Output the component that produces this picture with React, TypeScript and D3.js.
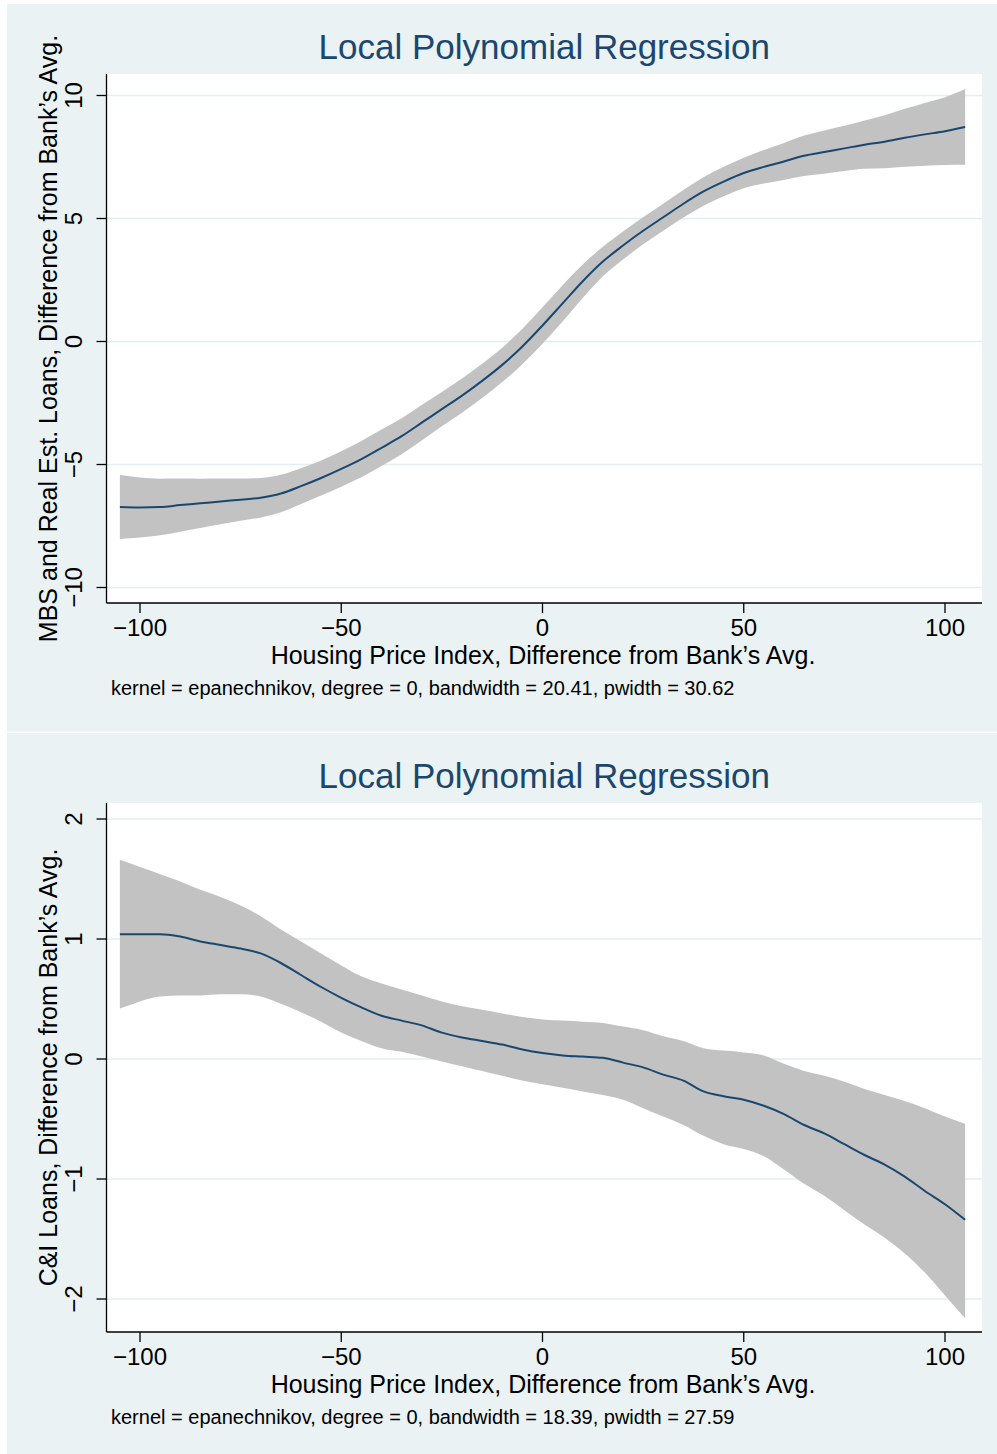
import React from 'react';
import * as d3 from 'd3';

// x grid (Housing Price Index, difference from bank's avg.)
const xs = [-105,-100,-95,-90,-85,-80,-75,-70,-65,-60,-55,-50,-45,-40,-35,-30,-25,-20,-15,-10,-5,0,5,10,15,20,25,30,35,40,45,50,55,60,65,70,75,80,85,90,95,100,105];

// Panel 1: MBS and Real Est. Loans
const mbsFit = [-6.73,-6.75,-6.73,-6.65,-6.58,-6.50,-6.43,-6.35,-6.18,-5.88,-5.55,-5.18,-4.78,-4.32,-3.85,-3.30,-2.75,-2.20,-1.60,-0.95,-0.20,0.65,1.55,2.45,3.25,3.90,4.50,5.05,5.60,6.10,6.50,6.85,7.10,7.32,7.55,7.70,7.85,8.00,8.12,8.28,8.42,8.55,8.72];
const mbsUpper = [-5.43,-5.53,-5.58,-5.57,-5.58,-5.57,-5.57,-5.55,-5.42,-5.15,-4.84,-4.46,-4.04,-3.58,-3.12,-2.58,-2.05,-1.50,-0.90,-0.25,0.52,1.39,2.29,3.13,3.85,4.47,5.05,5.60,6.16,6.68,7.10,7.47,7.78,8.07,8.37,8.58,8.77,8.98,9.20,9.46,9.70,9.93,10.26];
const mbsLower = [-8.03,-7.97,-7.88,-7.73,-7.58,-7.43,-7.29,-7.15,-6.94,-6.61,-6.26,-5.90,-5.52,-5.06,-4.58,-4.02,-3.45,-2.90,-2.30,-1.65,-0.92,-0.09,0.81,1.77,2.65,3.33,3.95,4.50,5.04,5.52,5.90,6.23,6.42,6.57,6.73,6.82,6.93,7.02,7.04,7.10,7.14,7.17,7.18];

// Panel 2: C&I Loans
const ciFit = [1.04,1.04,1.04,1.02,0.98,0.95,0.92,0.88,0.80,0.70,0.60,0.51,0.43,0.36,0.32,0.28,0.22,0.18,0.15,0.12,0.08,0.05,0.03,0.02,0.01,-0.03,-0.07,-0.13,-0.18,-0.27,-0.31,-0.34,-0.39,-0.46,-0.55,-0.62,-0.71,-0.80,-0.88,-0.98,-1.10,-1.21,-1.34];
const ciUpper = [1.66,1.60,1.54,1.48,1.41,1.35,1.28,1.19,1.08,0.98,0.88,0.78,0.69,0.63,0.58,0.53,0.48,0.44,0.41,0.38,0.35,0.33,0.32,0.31,0.30,0.27,0.24,0.19,0.15,0.09,0.07,0.055,0.03,-0.04,-0.10,-0.14,-0.19,-0.25,-0.30,-0.35,-0.41,-0.48,-0.54];
const ciLower = [0.42,0.48,0.52,0.53,0.53,0.54,0.54,0.52,0.46,0.39,0.31,0.22,0.15,0.09,0.06,0.02,-0.02,-0.06,-0.10,-0.14,-0.18,-0.21,-0.24,-0.27,-0.30,-0.34,-0.41,-0.48,-0.55,-0.64,-0.71,-0.75,-0.81,-0.92,-1.04,-1.14,-1.26,-1.38,-1.49,-1.62,-1.78,-1.97,-2.16];

const xTicks = [-100, -50, 0, 50, 100];
const mbsYTicks = [-10, -5, 0, 5, 10];
const ciYTicks = [-2, -1, 0, 1, 2];

const titleText = 'Local Polynomial Regression';
const xTitle = 'Housing Price Index, Difference from Bank\u2019s Avg.';
const mbsYTitle = 'MBS and Real Est. Loans, Difference from Bank\u2019s Avg.';
const ciYTitle = 'C&I Loans, Difference from Bank\u2019s Avg.';
const mbsNote = 'kernel = epanechnikov, degree = 0, bandwidth = 20.41, pwidth = 30.62';
const ciNote = 'kernel = epanechnikov, degree = 0, bandwidth = 18.39, pwidth = 27.59';

const FONT = '"Liberation Sans", Arial, Helvetica, sans-serif';
const BG = '#eaf2f3';
const NAVY = '#1a476f';
const BAND = '#c2c2c2';

const fmt = (v: number) => (v < 0 ? '\u2212' + Math.abs(v) : String(v));

type PanelProps = {
  offsetY: number;
  height: number;
  fit: number[];
  upper: number[];
  lower: number[];
  yTicks: number[];
  yRange: [number, number];
  yTitle: string;
  note: string;
};

function Panel({ offsetY, height, fit, upper, lower, yTicks, yRange, yTitle, note }: PanelProps) {
  const plotL = 106.5, plotR = 982, plotT = 74, plotB = 603;
  const x = d3.scaleLinear().domain([-100, 100]).range([140, 945]);
  const y = d3.scaleLinear().domain([yTicks[0], yTicks[yTicks.length - 1]]).range(yRange);
  const pts = xs.map((xv, i) => ({ x: xv, f: fit[i], u: upper[i], l: lower[i] }));
  const area = d3.area<any>().x(d => x(d.x)).y0(d => y(d.l)).y1(d => y(d.u)).curve(d3.curveMonotoneX);
  const line = d3.line<any>().x(d => x(d.x)).y(d => y(d.f)).curve(d3.curveMonotoneX);
  const midY = (plotT + plotB) / 2;
  return (
    <g transform={`translate(0,${offsetY})`}>
      <rect x={7} y={4} width={990} height={height} fill={BG} />
      <rect x={plotL} y={plotT} width={plotR - plotL} height={plotB - plotT} fill="#ffffff" />
      {yTicks.map(t => (
        <line key={'g' + t} x1={plotL} x2={plotR} y1={y(t)} y2={y(t)} stroke="#e4eef0" strokeWidth={1.6} />
      ))}
      <path d={area(pts) || ''} fill={BAND} stroke="none" />
      <path d={line(pts) || ''} fill="none" stroke={NAVY} strokeWidth={2} />
      {/* axes */}
      <line x1={plotL} x2={plotL} y1={plotT} y2={plotB} stroke="#000" strokeWidth={1.3} />
      <line x1={plotL} x2={plotR} y1={plotB} y2={plotB} stroke="#000" strokeWidth={1.3} />
      {yTicks.map(t => (
        <g key={'y' + t}>
          <line x1={plotL - 10} x2={plotL} y1={y(t)} y2={y(t)} stroke="#000" strokeWidth={1.3} />
          <text transform={`translate(82,${y(t)}) rotate(-90)`} textAnchor="middle" fontSize={24} fontFamily={FONT} fill="#000">{fmt(t)}</text>
        </g>
      ))}
      {xTicks.map(t => (
        <g key={'x' + t}>
          <line x1={x(t)} x2={x(t)} y1={plotB} y2={plotB + 10} stroke="#000" strokeWidth={1.3} />
          <text x={x(t)} y={636} textAnchor="middle" fontSize={24} fontFamily={FONT} fill="#000">{fmt(t)}</text>
        </g>
      ))}
      <text x={(plotL + plotR) / 2} y={59} textAnchor="middle" fontSize={35} fontFamily={FONT} fill={NAVY}>{titleText}</text>
      <text x={543} y={664} textAnchor="middle" fontSize={25} fontFamily={FONT} fill="#000">{xTitle}</text>
      <text transform={`translate(57,${midY}) rotate(-90)`} textAnchor="middle" fontSize={25} fontFamily={FONT} fill="#000">{yTitle}</text>
      <text x={111} y={695} fontSize={20} fontFamily={FONT} fill="#000">{note}</text>
    </g>
  );
}

export default function App() {
  return (
    <svg width={997} height={1454} style={{ position: 'absolute', left: 0, top: 0, background: '#ffffff' }}>
      <Panel offsetY={0} height={727.5} fit={mbsFit} upper={mbsUpper} lower={mbsLower} yTicks={mbsYTicks} yRange={[587.5, 95.5]} yTitle={mbsYTitle} note={mbsNote} />
      <Panel offsetY={729} height={721} fit={ciFit} upper={ciUpper} lower={ciLower} yTicks={ciYTicks} yRange={[570, 90]} yTitle={ciYTitle} note={ciNote} />
    </svg>
  );
}
